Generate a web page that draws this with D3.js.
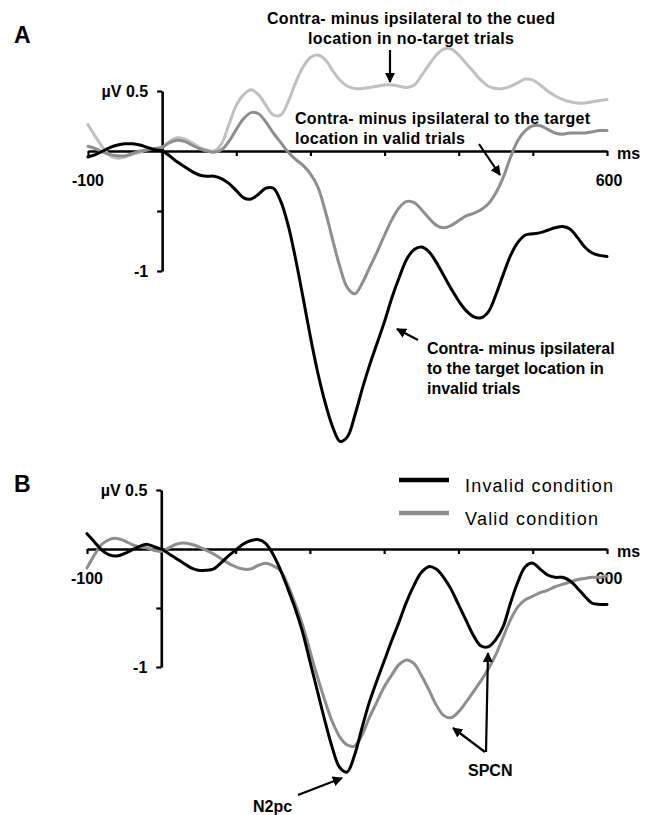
<!DOCTYPE html>
<html>
<head>
<meta charset="utf-8">
<script src="https://cdn.jsdelivr.net/npm/d3@7"></script>
<style>
  html, body { margin: 0; padding: 0; background: #fff; }
  svg { display: block; }
  text { font-family: "Liberation Sans", Arial, sans-serif; }
</style>
</head>
<body>
<svg id="chart" width="652" height="815"></svg>
<script>
// ---------- DATA ----------
const times = d3.range(-100, 601, 10);
const xTickValues = [-100, 0, 100, 200, 300, 400, 500, 600];
const yTickValues = [0.5, -0.5, -1];

// Panel A: contra minus ipsi to the target, invalid trials (black)
const aInvalid = [-0.05,-0.03,0.00,0.03,0.05,0.06,0.06,0.05,0.03,0.01,
  0.00,-0.04,-0.09,-0.13,-0.17,-0.20,-0.21,-0.21,-0.23,-0.27,
  -0.33,-0.39,-0.40,-0.36,-0.31,-0.31,-0.42,-0.62,-0.90,-1.22,
  -1.55,-1.85,-2.10,-2.30,-2.42,-2.38,-2.20,-1.98,-1.78,-1.60,
  -1.42,-1.22,-1.05,-0.90,-0.82,-0.80,-0.84,-0.93,-1.04,-1.15,
  -1.25,-1.33,-1.38,-1.39,-1.34,-1.20,-1.03,-0.87,-0.76,-0.70,
  -0.69,-0.68,-0.66,-0.64,-0.63,-0.65,-0.72,-0.80,-0.85,-0.87,-0.88];
// Panel A: contra minus ipsi to the target, valid trials (mid grey)
const aValid = [0.04,0.02,-0.01,-0.03,-0.04,-0.04,-0.02,0.00,0.01,0.02,
  0.03,0.07,0.09,0.08,0.05,0.02,0.00,-0.01,0.01,0.08,
  0.18,0.27,0.32,0.31,0.24,0.15,0.07,-0.01,-0.07,-0.12,
  -0.19,-0.30,-0.50,-0.74,-0.97,-1.14,-1.19,-1.10,-0.97,-0.84,
  -0.70,-0.57,-0.47,-0.42,-0.43,-0.49,-0.56,-0.62,-0.64,-0.62,
  -0.58,-0.54,-0.52,-0.49,-0.44,-0.35,-0.22,-0.05,0.09,0.17,
  0.21,0.21,0.18,0.15,0.14,0.15,0.15,0.15,0.16,0.17,0.17];
// Panel A: contra minus ipsi to the cued location, no-target trials (light grey)
const aNoTarget = [0.22,0.12,0.03,-0.04,-0.06,-0.05,-0.03,-0.01,0.01,0.02,
  0.03,0.08,0.11,0.10,0.07,0.03,0.01,0.00,0.06,0.22,
  0.38,0.47,0.51,0.47,0.38,0.30,0.30,0.41,0.57,0.70,
  0.78,0.80,0.76,0.67,0.59,0.54,0.52,0.52,0.53,0.54,
  0.55,0.55,0.54,0.53,0.55,0.63,0.72,0.80,0.85,0.85,
  0.80,0.73,0.66,0.59,0.54,0.52,0.52,0.54,0.57,0.60,
  0.59,0.55,0.50,0.46,0.43,0.41,0.40,0.40,0.41,0.42,0.43];
// Panel B: invalid condition (black)
const bInvalid = [0.13,0.06,-0.01,-0.05,-0.06,-0.04,-0.01,0.02,0.04,0.02,
  0.00,-0.04,-0.08,-0.12,-0.16,-0.18,-0.18,-0.17,-0.12,-0.06,
  -0.01,0.04,0.07,0.08,0.05,-0.04,-0.17,-0.33,-0.50,-0.70,
  -0.95,-1.20,-1.45,-1.68,-1.85,-1.89,-1.75,-1.52,-1.30,-1.12,
  -0.95,-0.78,-0.62,-0.45,-0.31,-0.20,-0.15,-0.17,-0.24,-0.34,
  -0.47,-0.60,-0.73,-0.82,-0.83,-0.77,-0.66,-0.46,-0.28,-0.15,
  -0.12,-0.17,-0.22,-0.24,-0.24,-0.27,-0.33,-0.40,-0.46,-0.47,-0.47];
// Panel B: valid condition (grey)
const bValid = [-0.16,-0.05,0.04,0.08,0.09,0.07,0.04,0.02,0.01,-0.01,
  -0.02,0.01,0.04,0.05,0.04,0.02,-0.01,-0.04,-0.08,-0.12,
  -0.15,-0.17,-0.17,-0.14,-0.12,-0.14,-0.18,-0.30,-0.46,-0.64,
  -0.86,-1.08,-1.28,-1.46,-1.59,-1.66,-1.67,-1.58,-1.43,-1.30,
  -1.17,-1.07,-0.98,-0.94,-0.97,-1.07,-1.19,-1.32,-1.41,-1.43,
  -1.38,-1.30,-1.21,-1.12,-1.02,-0.90,-0.75,-0.60,-0.49,-0.43,
  -0.40,-0.37,-0.35,-0.32,-0.30,-0.28,-0.26,-0.25,-0.24,-0.24,-0.23];

const legendLabels = ["Invalid condition", "Valid condition"];

// ---------- STYLE ----------
const BLACK = "#000000", MID = "#8e8e8e", LIGHT = "#c0c0c0";
const svg = d3.select("#chart");

const defs = svg.append("defs");
defs.append("marker").attr("id", "arr").attr("viewBox", "0 0 10 10")
  .attr("refX", 9).attr("refY", 5).attr("markerWidth", 4.6).attr("markerHeight", 4.6)
  .attr("markerUnits", "strokeWidth").attr("orient", "auto")
  .append("path").attr("d", "M0,0 L10,5 L0,10 Z").attr("fill", "#000");

function panel(cfg) {
  const x = d3.scaleLinear().domain([-100, 600]).range(cfg.xRange);
  const y = d3.scaleLinear().domain([-1, 0.5]).range(cfg.yRange);
  const g = svg.append("g");

  // x axis at y=0
  const xa = g.append("g").attr("transform", `translate(0,${y(0)})`)
    .call(d3.axisBottom(x).tickValues(xTickValues).tickFormat("").tickSize(5).tickSizeOuter(0));
  xa.select(".domain").attr("stroke", "#000").attr("stroke-width", 2.6);
  xa.selectAll(".tick line").attr("stroke", "#000").attr("stroke-width", 2.2);

  // y axis at x=0
  const ya = g.append("g").attr("transform", `translate(${x(0)},0)`)
    .call(d3.axisLeft(y).tickValues(yTickValues).tickFormat("").tickSize(5).tickSizeOuter(0));
  ya.select(".domain").attr("stroke", "#000").attr("stroke-width", 2.6);
  ya.selectAll(".tick line").attr("stroke", "#000").attr("stroke-width", 2.2);

  const lab = (t, tx, ty, anchor) => g.append("text").text(t).attr("x", tx).attr("y", ty)
    .attr("text-anchor", anchor || "start").attr("font-size", 16).attr("font-weight", "bold");
  lab("µV 0.5", x(0) - 14, y(0.5) + 6, "end");
  lab("-1", x(0) - 14, y(-1) + 6, "end");
  lab("-100", x(-100), y(0) + 35, "middle");
  lab("600", x(600) + 2, y(0) + 35, "middle");
  lab("ms", x(600) + 10, y(0) + 8, "start");

  const line = d3.line().x((d, i) => x(times[i])).y(d => y(d)).curve(d3.curveCatmullRom.alpha(0.5));
  cfg.series.forEach(s => {
    g.append("path").datum(s.values).attr("d", line)
      .attr("fill", "none").attr("stroke", s.color).attr("stroke-width", 3)
      .attr("stroke-linejoin", "round").attr("stroke-linecap", "round");
  });
  return {x, y, g};
}

// ---------- PANEL A ----------
const A = panel({
  xRange: [88, 607], yRange: [271, 91],
  series: [
    {values: aNoTarget, color: LIGHT},
    {values: aValid, color: MID},
    {values: aInvalid, color: BLACK}
  ]
});
// ---------- PANEL B ----------
const B = panel({
  xRange: [87, 607], yRange: [667, 490],
  series: [
    {values: bValid, color: MID},
    {values: bInvalid, color: BLACK}
  ]
});

// Panel letters
svg.append("text").text("A").attr("x", 14).attr("y", 43).attr("font-size", 23).attr("font-weight", "bold");
svg.append("text").text("B").attr("x", 14).attr("y", 492).attr("font-size", 23).attr("font-weight", "bold");

// Annotation helper
function ann(lines, x0, y0, anchor, lens) {
  lines.forEach((t, i) => {
    const el = svg.append("text").text(t).attr("x", x0).attr("y", y0 + i * 20)
      .attr("text-anchor", anchor).attr("font-size", 16).attr("font-weight", "bold");
    if (lens && lens[i]) el.attr("textLength", lens[i]).attr("lengthAdjust", "spacing");
  });
}
function arrow(x1, y1, x2, y2) {
  svg.append("line").attr("x1", x1).attr("y1", y1).attr("x2", x2).attr("y2", y2)
    .attr("stroke", "#000").attr("stroke-width", 2.2).attr("marker-end", "url(#arr)");
}

ann(["Contra- minus ipsilateral to the cued", "location in no-target trials"], 411, 24, "middle", [288, 206]);
arrow(390, 50, 390, 82);
ann(["Contra- minus ipsilateral to the target", "location in valid trials"], 295, 124, "start", [295, 170]);
arrow(479, 144, 500, 175);
ann(["Contra- minus ipsilateral", "to the target location in", "invalid trials"], 427, 354, "start");
arrow(418, 340, 397, 329);

// Legend (panel B)
const legColors = [BLACK, MID];
legendLabels.forEach((t, i) => {
  const ly = 480 + i * 33;
  svg.append("line").attr("x1", 399).attr("x2", 449).attr("y1", ly).attr("y2", ly)
    .attr("stroke", legColors[i]).attr("stroke-width", 4.5);
  svg.append("text").text(t).attr("x", 465).attr("y", ly + 12)
    .attr("font-size", 18).attr("textLength", i === 0 ? 148 : 133).attr("lengthAdjust", "spacing");
});

// N2pc / SPCN
svg.append("text").text("N2pc").attr("x", 253).attr("y", 812).attr("font-size", 16).attr("font-weight", "bold");
arrow(298, 795, 342, 778);
svg.append("text").text("SPCN").attr("x", 468).attr("y", 776).attr("font-size", 16).attr("font-weight", "bold");
arrow(485, 752, 453, 728);
arrow(486, 752, 488, 653);
</script>
</body>
</html>
